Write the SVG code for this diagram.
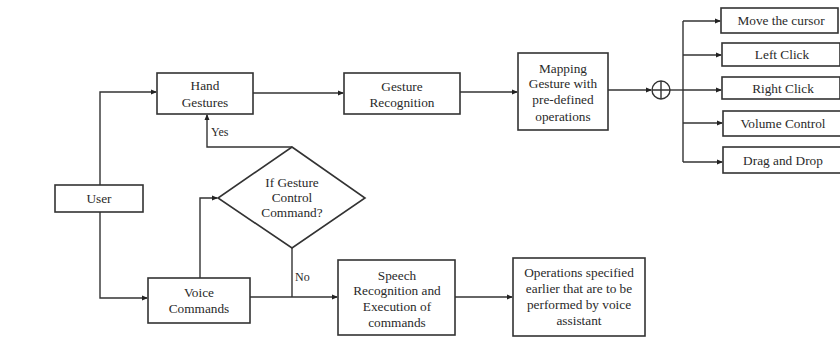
<svg xmlns="http://www.w3.org/2000/svg" width="840" height="338" viewBox="0 0 840 338">
<defs>
<marker id="ah" markerWidth="6" markerHeight="6" refX="5" refY="3" orient="auto" markerUnits="userSpaceOnUse">
<path d="M0,0.5 L6,3 L0,5.5 Z" fill="#222"/>
</marker>
<style>
.box{fill:#fff;stroke:#333;stroke-width:1.6}
.ln{fill:none;stroke:#333;stroke-width:1.4}
.t{font-family:"Liberation Serif","DejaVu Serif",serif;font-size:13.3px;fill:#2a2a2a;text-anchor:middle}
.tl{font-family:"Liberation Serif","DejaVu Serif",serif;font-size:12px;fill:#2a2a2a}
</style>
</defs>
<rect width="840" height="338" fill="#fff"/>
<g id="connectors">
<path class="ln" d="M100,185 V92 H156" marker-end="url(#ah)"/>
<path class="ln" d="M100,212 V298 H147" marker-end="url(#ah)"/>
<path class="ln" d="M253,93 H343" marker-end="url(#ah)" stroke-width="1"/>
<path class="ln" d="M460,92 H517" marker-end="url(#ah)"/>
<path class="ln" d="M608,90 H651" marker-end="url(#ah)"/>
<path class="ln" d="M670,90 H683"/>
<path class="ln" d="M683,21 V162"/>
<path class="ln" d="M683,21 H720" marker-end="url(#ah)"/>
<path class="ln" d="M683,55 H721" marker-end="url(#ah)"/>
<path class="ln" d="M683,90 H721" marker-end="url(#ah)"/>
<path class="ln" d="M683,123 H722" marker-end="url(#ah)"/>
<path class="ln" d="M683,162 H722" marker-end="url(#ah)"/>
<path class="ln" d="M292,147 H207 V115" marker-end="url(#ah)"/>
<path class="ln" d="M200,278 V198 H217" marker-end="url(#ah)"/>
<path class="ln" d="M250,297 H337" marker-end="url(#ah)"/>
<path class="ln" d="M292,248 V297"/>
<path class="ln" d="M455,297 H512" marker-end="url(#ah)"/>
<text class="tl" x="211" y="136">Yes</text>
<text class="tl" x="295" y="281">No</text>
</g>
<g id="user"><rect class="box" x="55" y="185" width="88" height="27"/><text class="t" x="99" y="203">User</text></g>
<g id="hand"><rect class="box" x="157" y="73" width="96" height="41"/><text class="t" x="205" y="90">Hand</text><text class="t" x="205" y="107">Gestures</text></g>
<g id="gesture"><rect class="box" x="344" y="73" width="116" height="41"/><text class="t" x="402" y="91">Gesture</text><text class="t" x="402" y="107">Recognition</text></g>
<g id="mapping"><rect class="box" x="518" y="53" width="90" height="77"/><text class="t" x="563" y="73">Mapping</text><text class="t" x="563" y="88">Gesture with</text><text class="t" x="563" y="104">pre-defined</text><text class="t" x="563" y="121">operations</text></g>
<g id="sum"><circle cx="661" cy="90" r="9" fill="#fff" stroke="#333" stroke-width="1.4"/><path class="ln" d="M652,90 H670 M661,81 V99"/></g>
<g id="move"><rect class="box" x="721" y="8" width="117" height="25"/><text class="t" x="781" y="25">Move the cursor</text></g>
<g id="left"><rect class="box" x="722" y="43" width="118" height="23"/><text class="t" x="782" y="59">Left Click</text></g>
<g id="right"><rect class="box" x="722" y="77" width="118" height="22"/><text class="t" x="783" y="93">Right Click</text></g>
<g id="volume"><rect class="box" x="723" y="111" width="118" height="25"/><text class="t" x="783" y="128">Volume Control</text></g>
<g id="drag"><rect class="box" x="723" y="147" width="118" height="26"/><text class="t" x="783" y="165">Drag and Drop</text></g>
<g id="decision"><polygon class="box" points="292,147 365,198 292,248 218,198"/><text class="t" x="292" y="187">If Gesture</text><text class="t" x="292" y="202">Control</text><text class="t" x="292" y="217">Command?</text></g>
<g id="voice"><rect class="box" x="148" y="278" width="102" height="45"/><text class="t" x="199" y="297">Voice</text><text class="t" x="199" y="313">Commands</text></g>
<g id="speech"><rect class="box" x="338" y="260" width="117" height="75"/><text class="t" x="397" y="280">Speech</text><text class="t" x="397" y="295">Recognition and</text><text class="t" x="397" y="311">Execution of</text><text class="t" x="397" y="327">commands</text></g>
<g id="operations"><rect class="box" x="513" y="258" width="132" height="78"/><text class="t" x="579" y="277">Operations specified</text><text class="t" x="579" y="293">earlier that are to be</text><text class="t" x="579" y="309">performed by voice</text><text class="t" x="579" y="325">assistant</text></g>
</svg>
